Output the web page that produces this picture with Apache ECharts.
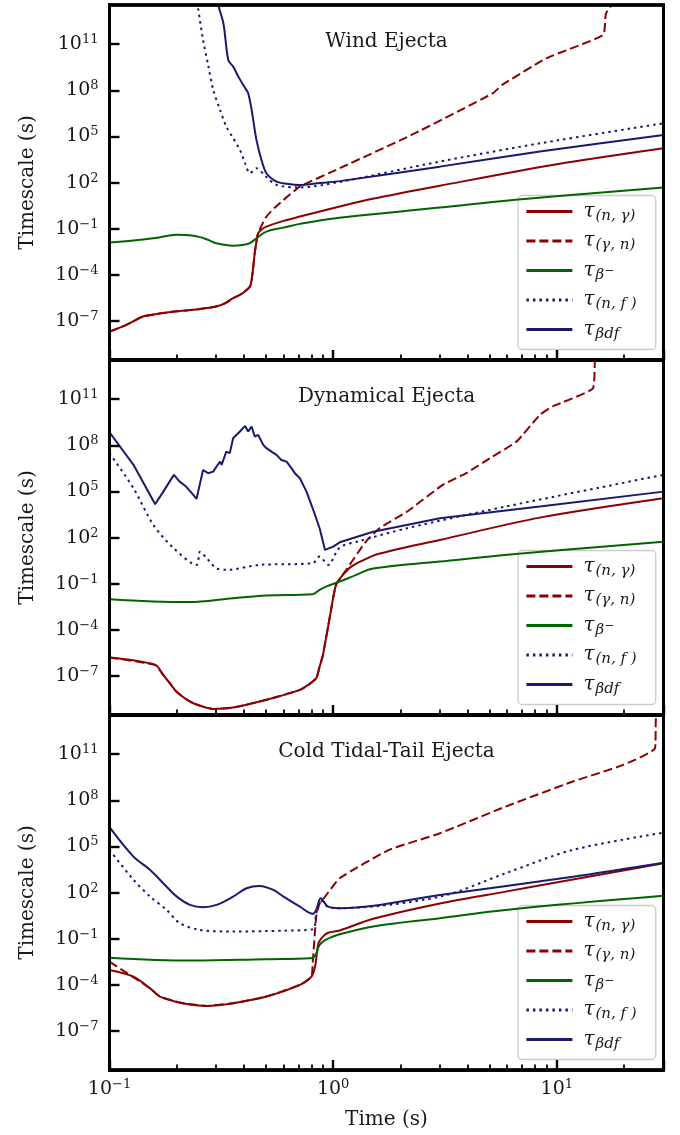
<!DOCTYPE html>
<html>
<head>
<meta charset="utf-8">
<script src="https://cdn.jsdelivr.net/npm/echarts@6/dist/echarts.min.js"></script>
<style>
  html, body { margin: 0; padding: 0; background: #ffffff; }
  #stage { position: relative; width: 680px; height: 1135px; }
  #stage > div { position: absolute; left: 0; top: 0; width: 680px; height: 1135px; }
  .tick-layer { pointer-events: none; }
</style>
</head>
<body>
<div id="stage">
  <div id="chart"></div>
</div>
<script>
// Reaction timescales (s) against time (s), stored as [time, timescale] pairs.

// ---- Wind ejecta ----
const windCapture = [[0.1,2.1e-8],[0.119,5.75e-8],[0.141,2.0e-7],[0.165,3.0e-7],[0.194,4.2e-7],[0.25,6.0e-7],[0.3,8.9e-7],[0.33,1.5e-6],[0.357,3.1e-6],[0.39,5.9e-6],[0.41,1.07e-5],[0.425,1.8e-5],[0.432,4.8e-5],[0.44,4e-4],[0.446,2.6e-3],[0.455,1.8e-2],[0.462,5.2e-2],[0.48,0.095],[0.503,0.14],[0.6,0.33],[0.71,0.63],[1.07,2.8],[1.5,8.9],[3,63],[10,1580],[30,17400]];
const windPhoto = [[0.1,2.1e-8],[0.119,5.75e-8],[0.141,2.0e-7],[0.165,3.0e-7],[0.194,4.2e-7],[0.25,6.0e-7],[0.3,8.9e-7],[0.33,1.5e-6],[0.357,3.1e-6],[0.39,5.9e-6],[0.41,1.07e-5],[0.425,1.8e-5],[0.432,4.8e-5],[0.44,4e-4],[0.446,2.6e-3],[0.455,1.8e-2],[0.462,5.2e-2],[0.48,0.18],[0.503,0.62],[0.55,2.5],[0.6,7.6],[0.71,55],[1.07,870],[2.24,1.26e5],[5.18,6.5e7],[5.7,2.24e8],[8.97,1.2e10],[16.1,4.0e11],[16.6,1.0e13],[19,1.6e14]];
const windBeta = [[0.1,0.0129],[0.128,0.0174],[0.16,0.025],[0.2,0.041],[0.228,0.038],[0.254,0.029],[0.276,0.019],[0.3,0.0117],[0.357,0.0081],[0.4,0.0093],[0.424,0.0117],[0.454,0.0245],[0.503,0.066],[0.6,0.12],[0.71,0.21],[1.07,0.52],[3,2.4],[6.36,7.6],[30,48]];
const windFission = [[0.24,1e15],[0.249,2.1e13],[0.262,1.9e11],[0.276,4.5e9],[0.291,1.07e8],[0.312,5.4e6],[0.333,4.4e5],[0.357,7.8e4],[0.383,1.35e4],[0.404,1820],[0.424,410],[0.44,600],[0.454,870],[0.5,250],[0.56,71],[0.71,49],[1.07,112],[3,2340],[8.4,36000],[30,7.2e5]];
const windBdf = [[0.295,3e14],[0.306,3.5e13],[0.323,2.3e12],[0.34,8.9e9],[0.357,3.5e9],[0.38,6.2e8],[0.404,1.4e8],[0.417,6.5e7],[0.432,5.4e6],[0.454,6.0e4],[0.478,3000],[0.503,410],[0.558,117],[0.62,85],[0.71,71],[0.85,91],[1.07,126],[3,1100],[8.4,10500],[30,1.26e5]];

// ---- Dynamical ejecta ----
const dynCapture = [[0.1,1.62e-6],[0.16,5.4e-7],[0.174,1.2e-7],[0.186,3.5e-8],[0.199,1.0e-8],[0.217,3.7e-9],[0.237,1.74e-9],[0.262,1.05e-9],[0.29,7.4e-10],[0.357,9.1e-10],[0.503,2.9e-9],[0.71,1.29e-8],[0.773,2.7e-8],[0.84,7.4e-8],[0.87,4.2e-7],[0.9,2.4e-6],[0.97,9.5e-4],[1.03,0.085],[1.1,0.35],[1.2,1.26],[1.35,3.2],[1.6,8.9],[3,71],[8.4,2000],[30,36000]];
const dynPhoto = [[0.1,1.62e-6],[0.16,5.4e-7],[0.174,1.2e-7],[0.186,3.5e-8],[0.199,1.0e-8],[0.217,3.7e-9],[0.237,1.74e-9],[0.262,1.05e-9],[0.29,7.4e-10],[0.357,9.1e-10],[0.503,2.9e-9],[0.71,1.29e-8],[0.773,2.7e-8],[0.84,7.4e-8],[0.87,4.2e-7],[0.9,2.4e-6],[0.97,9.5e-4],[1.03,0.085],[1.13,0.63],[1.4,55],[1.61,410],[2.14,4900],[3.09,2.7e5],[3.94,1.55e6],[5.02,1.45e7],[6.6,1.74e8],[8.4,9.5e9],[9.57,3.3e10],[14.5,5.1e11],[14.8,2.75e13],[15.2,3.2e14]];
const dynBeta = [[0.1,0.01],[0.225,0.0065],[0.357,0.0117],[0.503,0.0174],[0.81,0.0214],[0.87,0.041],[0.93,0.066],[1.07,0.141],[1.27,0.38],[1.51,1.0],[3,2.8],[6.36,8.3],[30,55]];
const dynFission = [[0.1,3.1e7],[0.128,1.62e5],[0.157,680],[0.194,20],[0.245,1.7],[0.254,12.3],[0.272,4.6],[0.3,1.05],[0.333,0.81],[0.47,1.7],[0.81,2.2],[0.87,5.9],[0.95,1.7],[1.07,23],[1.31,60],[2.14,410],[5.9,10500],[30,1.2e6]];
const dynBdf = [[0.1,7.1e8],[0.128,5.4e6],[0.16,1.48e4],[0.174,9.8e4],[0.194,1.2e6],[0.206,4.4e5],[0.22,2.1e5],[0.237,6.0e4],[0.245,3.3e4],[0.262,2.5e6],[0.276,1.55e6],[0.291,1.95e6],[0.301,4.2e6],[0.312,8.7e6],[0.317,5.4e6],[0.333,3.9e7],[0.345,3.1e7],[0.357,2.9e8],[0.383,7.9e8],[0.404,1.82e9],[0.417,7.9e8],[0.432,1.66e9],[0.446,3.7e8],[0.462,4.8e8],[0.487,1.07e8],[0.503,6.5e7],[0.53,3.9e7],[0.558,2.4e7],[0.587,1.12e7],[0.619,8.7e6],[0.652,3.2e6],[0.674,1.55e6],[0.71,7.2e5],[0.76,9.8e4],[0.81,8100],[0.87,410],[0.92,16],[1.0,26],[1.07,50],[1.51,245],[3,1820],[8.4,10500],[30,9.8e4]];

// ---- Cold tidal-tail ejecta ----
const coldCapture = [[0.1,9.5e-4],[0.128,3.5e-4],[0.152,6e-5],[0.168,1.78e-5],[0.213,6.6e-6],[0.272,4.4e-6],[0.357,6.6e-6],[0.503,1.78e-5],[0.71,1.02e-4],[0.8,3.5e-4],[0.83,1.58e-3],[0.86,0.052],[0.9,0.14],[0.95,0.25],[1.07,0.35],[1.51,2.0],[3,20],[5.9,117],[11.8,710],[30,8100]];
const coldPhoto = [[0.1,3.3e-3],[0.117,7.4e-4],[0.137,1.66e-4],[0.152,6e-5],[0.168,1.78e-5],[0.213,6.6e-6],[0.272,4.4e-6],[0.357,6.6e-6],[0.503,1.78e-5],[0.71,1.02e-4],[0.8,3.5e-4],[0.81,2.6e-3],[0.84,2.8],[0.87,20],[0.92,55],[1.07,870],[1.78,6.0e4],[3,7.2e5],[5.9,3.9e7],[11.8,1.66e9],[19.8,2.0e10],[27.5,2.45e11],[27.7,1.29e13],[28,3.2e14]];
const coldBeta = [[0.1,6.0e-3],[0.237,3.9e-3],[0.5,4.8e-3],[0.79,5.5e-3],[0.83,7.9e-3],[0.87,0.04],[0.93,0.089],[1.0,0.141],[1.07,0.2],[1.51,0.63],[3,2.2],[5.9,7.6],[30,62]];
const coldFission = [[0.1,6.0e4],[0.128,680],[0.152,55],[0.18,7.6],[0.206,1.05],[0.254,0.38],[0.357,0.30],[0.6,0.34],[0.81,0.42],[0.84,4.2],[0.88,30],[0.95,12],[1.07,9.8],[3,55],[5.9,1820],[11.8,6.0e4],[30,7.9e5]];
const coldBdf = [[0.1,1.8e6],[0.128,2.2e4],[0.152,3000],[0.18,245],[0.2,55],[0.229,16],[0.262,11.2],[0.301,16],[0.357,55],[0.41,195],[0.47,275],[0.54,150],[0.6,55],[0.71,12.3],[0.81,4.2],[0.84,7.6],[0.88,44],[0.95,12.3],[1.07,9.8],[3,71],[11.8,1100],[30,8900]];

const panelTitles = ['Wind Ejecta', 'Dynamical Ejecta', 'Cold Tidal-Tail Ejecta'];
const seriesNames = ['τ(n,γ)', 'τ(γ,n)', 'τβ−', 'τ(n,f)', 'τβdf'];
const yTickValues = [1e-7, 1e-4, 1e-1, 1e2, 1e5, 1e8, 1e11];
const xMajorTicks = [0.1, 1, 10];
const xMinorTicks = [0.2, 0.3, 0.4, 0.5, 0.6, 0.7, 0.8, 0.9, 2, 3, 4, 5, 6, 7, 8, 9, 20];

const panelData = [
  [windCapture, windPhoto, windBeta, windFission, windBdf],
  [dynCapture, dynPhoto, dynBeta, dynFission, dynBdf],
  [coldCapture, coldPhoto, coldBeta, coldFission, coldBdf]
];

// ---- look ----
const SERIF = '"DejaVu Serif", "Liberation Serif", serif';
const INK = '#1a1a1a';
const lineLooks = [
  { color: '#8b0000', type: 'solid', smooth: 0.3 },
  { color: '#8b0000', type: [9, 4], smooth: 0.15 },
  { color: '#006400', type: 'solid', smooth: 0.4 },
  { color: '#191970', type: [2.5, 4], smooth: 0.3 },
  { color: '#191970', type: 'solid', smooth: 0.3 }
];
const bdfSmooth = [0.3, 0, 0.35];

const X_MIN = 0.1, X_MAX = 30;
const Y_MIN = 3e-10, Y_MAX = 3.5e13;
const gridLeft = 109.5, gridWidth = 554, gridHeight = 355;
const gridTops = [5, 360, 715];

const powerLabel = v => {
  const e = Math.round(Math.log10(v));
  return '{b|10}{s|' + String(e).replace('-', '\u2212') + '}';
};
const powerRich = {
  b: { fontFamily: SERIF, fontSize: 19, color: INK, lineHeight: 22 },
  s: { fontFamily: SERIF, fontSize: 13, color: INK, lineHeight: 12, verticalAlign: 'top' }
};

const legendText = {
  'τ(n,γ)': '{t|τ}{u|(n, γ)}',
  'τ(γ,n)': '{t|τ}{u|(γ, n)}',
  'τβ−': '{t|τ}{u|β}{m|\u2212}',
  'τ(n,f)': '{t|τ}{u|(n, f )}',
  'τβdf': '{t|τ}{u|βdf}'
};

const panelGrid = top => ({
  left: gridLeft, top: top, width: gridWidth, height: gridHeight,
  show: true, borderColor: '#000', borderWidth: 2.8, backgroundColor: 'transparent'
});

// ---------- main chart: frames, curves, labels, legends ----------
const xAxes = gridTops.map((top, g) => {
  const last = g === gridTops.length - 1;
  const axis = {
    type: 'log', gridIndex: g, position: 'bottom', min: X_MIN, max: X_MAX,
    axisLine: { show: false },
    axisTick: { show: false },
    axisLabel: last ? { show: true, customValues: xMajorTicks, margin: 8, formatter: powerLabel, rich: powerRich } : { show: false },
    splitLine: { show: false }
  };
  if (last) {
    axis.name = 'Time (s)';
    axis.nameLocation = 'middle';
    axis.nameGap = 38;
    axis.nameTextStyle = { fontFamily: SERIF, fontSize: 20, color: INK, lineHeight: 24 };
  }
  return axis;
});

const yAxes = gridTops.map((top, g) => ({
  type: 'log', gridIndex: g, min: Y_MIN, max: Y_MAX,
  axisLine: { show: false },
  axisTick: { show: false },
  axisLabel: { show: true, customValues: yTickValues, margin: 11, formatter: powerLabel, rich: powerRich },
  splitLine: { show: false },
  name: 'Timescale (s)', nameLocation: 'middle', nameGap: 70,
  nameTextStyle: { fontFamily: SERIF, fontSize: 20, color: INK, lineHeight: 24 }
}));

const series = [];
panelData.forEach((sets, g) => {
  sets.forEach((data, k) => {
    const look = lineLooks[k];
    series.push({
      type: 'line', name: seriesNames[k], data: data,
      xAxisIndex: g, yAxisIndex: g,
      symbol: 'none', clip: true,
      smooth: k === 4 ? bdfSmooth[g] : look.smooth,
      lineStyle: { color: look.color, width: 2, type: look.type },
      itemStyle: { color: look.color },
      z: 2 + k
    });
  });
});

const legends = gridTops.map(top => ({
  orient: 'vertical', left: 518, top: top + 190.5,
  itemWidth: 46, itemHeight: 24, itemGap: 7.5,
  padding: [6, 19, 8, 7],
  backgroundColor: 'rgba(255,255,255,0.8)', borderColor: '#cccccc', borderWidth: 1.3, borderRadius: 4,
  selectedMode: false,
  data: seriesNames,
  itemStyle: { opacity: 0 },
  lineStyle: { width: 2.8 },
  formatter: name => legendText[name],
  textStyle: {
    color: INK,
    rich: {
      t: { fontFamily: SERIF, fontStyle: 'italic', fontSize: 20, color: INK, lineHeight: 24, padding: [0, 1, 0, 6] },
      u: { fontFamily: SERIF, fontStyle: 'italic', fontSize: 15, color: INK, lineHeight: 12, verticalAlign: 'bottom' },
      m: { fontFamily: SERIF, fontSize: 12, color: INK, lineHeight: 24 }
    }
  }
}));

const titles = gridTops.map((top, i) => ({
  text: panelTitles[i], left: 386.5, top: top + 24.5, textAlign: 'center', padding: 0,
  textStyle: { fontFamily: SERIF, fontSize: 20, fontWeight: 'normal', color: INK, lineHeight: 24 }
}));

const chart = echarts.init(document.getElementById('chart'), null, { renderer: 'canvas' });
chart.setOption({
  backgroundColor: '#ffffff',
  animation: false,
  title: titles,
  grid: gridTops.map(panelGrid),
  xAxis: xAxes,
  yAxis: yAxes,
  legend: legends,
  series: series
});

// ---------- tick layers: one single-panel chart per panel, sharing the panel's axes ----------
const stage = document.getElementById('stage');
function tickLayer(top, xTick, yTick) {
  const holder = document.createElement('div');
  holder.className = 'tick-layer';
  stage.appendChild(holder);
  const layer = echarts.init(holder, null, { renderer: 'canvas' });
  layer.setOption({
    backgroundColor: 'transparent',
    animation: false,
    grid: [panelGrid(top)],
    xAxis: [{
      type: 'log', min: X_MIN, max: X_MAX,
      axisLine: { show: true, lineStyle: { color: '#000', width: 2.8 } },
      axisTick: xTick, axisLabel: { show: false }, splitLine: { show: false }
    }],
    yAxis: [{
      type: 'log', min: Y_MIN, max: Y_MAX,
      axisLine: { show: true, lineStyle: { color: '#000', width: 2.8 } },
      axisTick: yTick, axisLabel: { show: false }, splitLine: { show: false }
    }],
    series: []
  });
}
gridTops.forEach(top => {
  // major decade ticks on both axes
  tickLayer(top,
    { show: true, inside: true, length: 10, lineStyle: { color: '#000', width: 2.4 } },
    { show: true, inside: true, length: 10, customValues: yTickValues, lineStyle: { color: '#000', width: 2.4 } });
  // minor ticks inside each decade of the time axis
  tickLayer(top,
    { show: true, inside: true, length: 5.5, customValues: xMinorTicks, lineStyle: { color: '#000', width: 1.8 } },
    { show: false });
});
</script>
</body>
</html>
